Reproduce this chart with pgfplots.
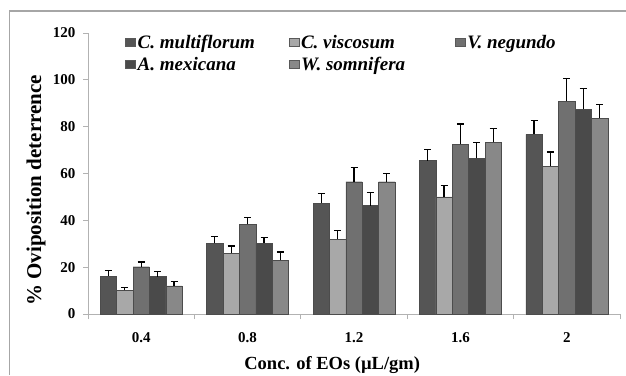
\documentclass[border=0pt]{standalone}
\usepackage{pgfplots}
\pgfplotsset{compat=1.18}
\usepackage{fontspec}
\setmainfont{Liberation Serif}
\definecolor{cA}{HTML}{555555}
\definecolor{cB}{HTML}{A8A8A8}
\definecolor{cC}{HTML}{707070}
\definecolor{cD}{HTML}{4A4A4A}
\definecolor{cE}{HTML}{888888}
\definecolor{frame}{HTML}{A6A6A6}
\begin{document}
\begin{tikzpicture}
\useasboundingbox (0pt,0pt) rectangle (626pt,375pt);
\fill[white] (0pt,0pt) rectangle (626pt,375pt);
\draw[frame, line width=1.4pt] (9.5pt,0pt) -- (9.5pt,364pt) -- (626pt,364pt);
\begin{axis}[
  at={(88pt,61pt)}, anchor=south west,
  scale only axis, width=532pt, height=281pt,
  ybar=0pt, bar width=16.4pt,
  xmin=-0.5, xmax=4.5, ymin=0, ymax=120,
  xtick={0,1,2,3,4},
  xticklabels={0.4,0.8,1.2,1.6,2},
  minor xtick={-0.5,0.5,1.5,2.5,3.5,4.5},
  ytick={0,20,40,60,80,100,120},
  axis x line=bottom, axis y line=left,
  axis line style={-, gray!60, line width=0.8pt},
  tick align=outside,
  major x tick style={draw=none},
  minor x tick style={gray!60, line width=0.8pt},
  y tick style={gray!60, line width=0.8pt},
  major tick length=5pt, minor tick length=5pt,
  /pgf/number format/assume math mode=true,
  ticklabel style={font=\fontsize{15}{17}\selectfont\bfseries},
  xticklabel style={yshift=-10pt},
  yticklabel style={xshift=-4pt},
  xlabel={Conc. of EOs (µL/gm)},
  ylabel={\% Oviposition deterrence},
  xlabel style={font=\fontsize{18.5}{20}\selectfont\bfseries, at={(axis description cs:0.459,-0.182)}, anchor=center},
  ylabel style={font=\fontsize{21}{23}\selectfont\bfseries, at={(axis description cs:-0.0977,0.44)}, anchor=center},
  legend columns=3,
  legend style={at={(rel axis cs:0.07,1.0)}, anchor=north west,
    draw=none, fill=none, font=\fontsize{19}{21}\selectfont\bfseries\itshape,
    row sep=3pt, inner sep=0pt},
  legend cell align=left,
  legend image code/.code={\draw[#1, draw=gray!70!black, line width=0.3pt] (0pt,-4pt) rectangle (10pt,4pt);},
  every axis plot/.append style={draw=gray!60!black, line width=0.3pt,
    error bars/y dir=plus, error bars/y explicit,
    error bars/error bar style={black, line width=1.2pt},
    error bars/error mark options={black, line width=1.2pt, mark size=3.5pt, rotate=90}},
]
\addplot[fill=cA] coordinates {(0,16.2) +- (0,2.3) (1,30.2) +- (0,3) (2,47.3) +- (0,4) (3,65.5) +- (0,4.8) (4,76.7) +- (0,5.8)};
\addplot[fill=cB] coordinates {(0,10.2) +- (0,1) (1,26) +- (0,3) (2,32) +- (0,3.7) (3,50) +- (0,5) (4,63.2) +- (0,6)};
\addplot[fill=cC] coordinates {(0,20.2) +- (0,2) (1,38.3) +- (0,3) (2,56.5) +- (0,6) (3,72.4) +- (0,8.7) (4,90.9) +- (0,9.7)};
\addplot[fill=cD] coordinates {(0,16) +- (0,2.2) (1,30.2) +- (0,2.5) (2,46.3) +- (0,5.5) (3,66.5) +- (0,6.6) (4,87.5) +- (0,8.9)};
\addplot[fill=cE] coordinates {(0,12) +- (0,2) (1,23) +- (0,3.5) (2,56.5) +- (0,3.5) (3,73.3) +- (0,6) (4,83.6) +- (0,5.8)};
\addlegendentry{\makebox[149pt][l]{C. multiflorum}}
\addlegendentry{\makebox[152pt][l]{C. viscosum}}
\addlegendentry{V. negundo}
\addlegendentry{\makebox[149pt][l]{A. mexicana}}
\addlegendentry{\makebox[152pt][l]{W. somnifera}}
\end{axis}
\end{tikzpicture}
\end{document}
